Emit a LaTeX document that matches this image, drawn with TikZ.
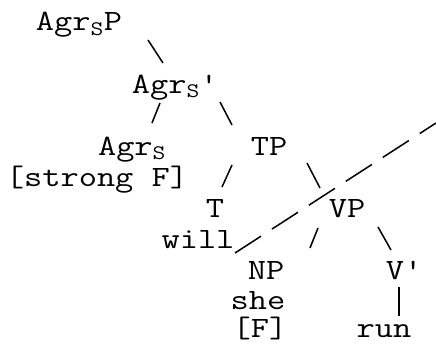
\documentclass[tikz,border=0pt]{standalone}
\usepackage{fontspec}
\newfontfamily\treefont{Latin Modern Mono}[FakeStretch=1.2]

\begin{document}
\begin{tikzpicture}[
    x=1pt, y=1pt,
    word/.style={font=\treefont\fontsize{29.5}{31}\selectfont, inner sep=0pt, anchor=base},
    branch/.style={line width=1.5pt},
    cut/.style={line width=1.5pt, dash pattern=on 31pt off 13pt}
]
    \useasboundingbox (0,0) rectangle (436,-345);

    % Nodes
    \node[word] (agrsp)   at (79,-31)   {Agr\textsubscript{S}P};
    \node[word] (agrbar)  at (175,-93)  {Agr\textsubscript{S}'};
    \node[word] (agrs)    at (132,-155) {Agr\textsubscript{S}};
    \node[word] (strongf) at (97,-186)  {[strong F]};
    \node[word] (tp)      at (269,-155) {TP};
    \node[word] (t)       at (215,-217) {T};
    \node[word] (will)    at (198,-248) {will};
    \node[word] (vp)      at (347,-217) {VP};
    \node[word] (np)      at (266,-279) {NP};
    \node[word] (she)     at (258,-309) {she};
    \node[word] (fbr)     at (260,-337) {[F]};
    \node[word] (vbar)    at (404,-279) {V'};
    \node[word] (run)     at (384,-337) {run};

    % Branches
    \draw[branch] ([shift={(69,-9)}]agrsp.base)   -- ([shift={(-12,30)}]agrbar.base);
    \draw[branch] ([shift={(-15,-10)}]agrbar.base) -- ([shift={(20,32)}]agrs.base);
    \draw[branch] ([shift={(45,-9)}]agrbar.base)  -- ([shift={(-37,30)}]tp.base);
    \draw[branch] ([shift={(-37,-10)}]tp.base)    -- ([shift={(7,30)}]t.base);
    \draw[branch] ([shift={(38,-8)}]tp.base)      -- ([shift={(-27,29)}]vp.base);
    \draw[branch] ([shift={(-29,-11)}]vp.base)    -- ([shift={(44,31)}]np.base);
    \draw[branch] ([shift={(31,-10)}]vp.base)     -- ([shift={(-13,29)}]vbar.base);
    \draw[branch] ([shift={(-5,-8)}]vbar.base)    -- ([shift={(15,21)}]run.base);

    % Cut line
    \coordinate (cutend) at (436,-123);
    \draw[cut] ([shift={(37,-5)}]will.base) -- (cutend);

\end{tikzpicture}
\end{document}
